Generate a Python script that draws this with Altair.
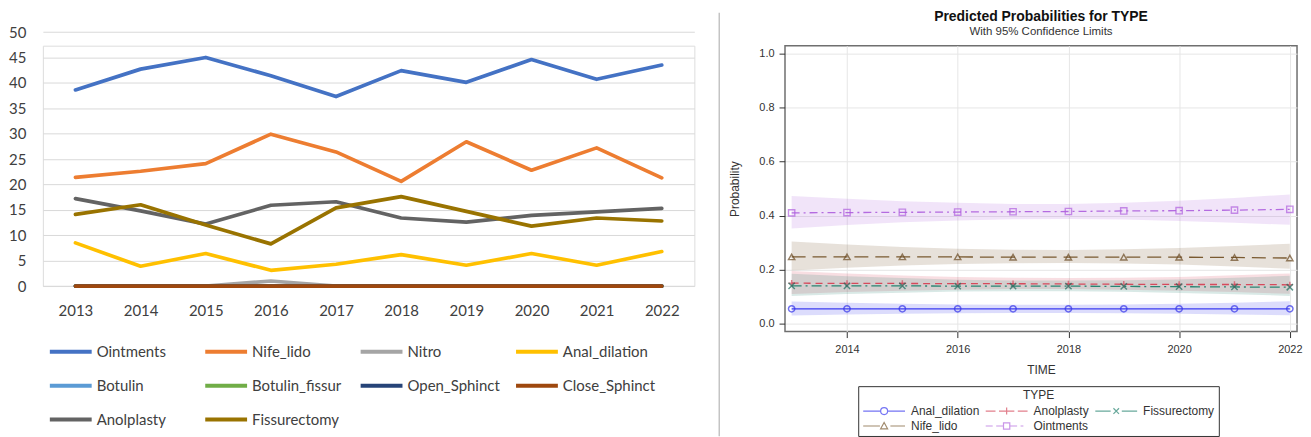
import altair as alt
import pandas as pd

# ---------------- left chart data (counts per year) ----------------
years = [2013, 2014, 2015, 2016, 2017, 2018, 2019, 2020, 2021, 2022]
series_names = ["Ointments", "Nife_lido", "Nitro", "Anal_dilation", "Botulin",
                "Botulin_fissur", "Open_Sphinct", "Close_Sphinct", "Anolplasty", "Fissurectomy"]
series_colors = ["#4472C4", "#ED7D31", "#A5A5A5", "#FFC000", "#5B9BD5",
                 "#70AD47", "#264478", "#9E480E", "#636363", "#997300"]

ointments = [38.6, 42.7, 45.0, 41.4, 37.3, 42.4, 40.1, 44.6, 40.7, 43.5]
nife_lido = [21.4, 22.6, 24.1, 29.9, 26.4, 20.6, 28.4, 22.8, 27.2, 21.3]
nitro = [0, 0, 0, 1.0, 0, 0, 0, 0, 0, 0]
anal_dilation = [8.5, 3.9, 6.4, 3.1, 4.3, 6.2, 4.1, 6.4, 4.1, 6.8]
botulin = [0, 0, 0, 0, 0, 0, 0, 0, 0, 0]
botulin_fissur = [0, 0, 0, 0, 0, 0, 0, 0, 0, 0]
open_sphinct = [0, 0, 0, 0, 0, 0, 0, 0, 0, 0]
close_sphinct = [0, 0, 0, 0, 0, 0, 0, 0, 0, 0]
anolplasty = [17.2, 14.8, 12.2, 15.9, 16.6, 13.4, 12.6, 13.9, 14.6, 15.3]
fissurectomy = [14.1, 16.0, 12.0, 8.3, 15.4, 17.6, 14.7, 11.8, 13.4, 12.8]
left_y_ticks = [0, 5, 10, 15, 20, 25, 30, 35, 40, 45, 50]

left_values = [ointments, nife_lido, nitro, anal_dilation, botulin,
               botulin_fissur, open_sphinct, close_sphinct, anolplasty, fissurectomy]
left_rows = []
for name, vals in zip(series_names, left_values):
    for yr, v in zip(years, vals):
        left_rows.append({"Series": name, "Year": yr, "Value": v})
left_df = pd.DataFrame(left_rows)

# ---------------- right chart data (predicted probabilities) ----------------
types = ["Anal_dilation", "Anolplasty", "Fissurectomy", "Nife_lido", "Ointments"]
type_colors = ["#3b3bf0", "#d64a5c", "#2a8573", "#7a5a30", "#b46be0"]
marker_colors = ["#3535ea", "#d64a5c", "#1b6e5f", "#6b4a22", "#b060de"]
marker_widths = [1.5, 1.4, 2.2, 1.7, 1.3]

p_anal = [0.055, 0.055, 0.055, 0.055, 0.055, 0.055, 0.055, 0.055, 0.055, 0.055]
lo_anal = [0.030, 0.034, 0.037, 0.039, 0.040, 0.040, 0.039, 0.037, 0.034, 0.031]
hi_anal = [0.082, 0.078, 0.074, 0.071, 0.070, 0.070, 0.071, 0.074, 0.078, 0.083]

p_anol = [0.150, 0.149, 0.149, 0.148, 0.148, 0.147, 0.146, 0.145, 0.145, 0.144]
lo_anol = [0.110, 0.117, 0.122, 0.126, 0.128, 0.128, 0.126, 0.122, 0.117, 0.111]
hi_anol = [0.195, 0.186, 0.178, 0.173, 0.170, 0.169, 0.170, 0.173, 0.179, 0.186]

p_fiss = [0.140, 0.140, 0.140, 0.139, 0.139, 0.139, 0.138, 0.137, 0.136, 0.135]
lo_fiss = [0.103, 0.110, 0.115, 0.119, 0.120, 0.120, 0.118, 0.114, 0.109, 0.103]
hi_fiss = [0.185, 0.176, 0.169, 0.163, 0.160, 0.160, 0.161, 0.164, 0.170, 0.177]

p_nife = [0.247, 0.247, 0.247, 0.247, 0.246, 0.246, 0.246, 0.246, 0.245, 0.243]
lo_nife = [0.197, 0.207, 0.215, 0.221, 0.224, 0.225, 0.223, 0.219, 0.212, 0.203]
hi_nife = [0.304, 0.293, 0.284, 0.277, 0.274, 0.273, 0.275, 0.280, 0.287, 0.296]

p_oint = [0.410, 0.411, 0.412, 0.413, 0.414, 0.415, 0.417, 0.418, 0.420, 0.423]
lo_oint = [0.352, 0.365, 0.375, 0.382, 0.386, 0.387, 0.385, 0.380, 0.373, 0.366]
hi_oint = [0.472, 0.462, 0.453, 0.447, 0.443, 0.443, 0.447, 0.455, 0.465, 0.478]

right_x_ticks = [2014, 2016, 2018, 2020, 2022]
right_y_ticks = [0.0, 0.2, 0.4, 0.6, 0.8, 1.0]

p_all = [p_anal, p_anol, p_fiss, p_nife, p_oint]
lo_all = [lo_anal, lo_anol, lo_fiss, lo_nife, lo_oint]
hi_all = [hi_anal, hi_anol, hi_fiss, hi_nife, hi_oint]
right_rows = []
for t, ps, los, his in zip(types, p_all, lo_all, hi_all):
    for yr, p, lo, hi in zip(years, ps, los, his):
        right_rows.append({"TYPE": t, "TIME": yr, "p": p, "lo": lo, "hi": hi})
right_df = pd.DataFrame(right_rows)

# styles
dashes = [[1, 0], [7, 5], [10, 4, 2, 4], [14, 7], [8, 4, 2, 4]]
marker_shapes = ["circle", "M-1,0H1M0,-1V1", "M-1,-1L1,1M-1,1L1,-1", "triangle-up", "square"]
# legend glyphs: line segment + marker, drawn in symbol units (1 unit = 7 px)
legend_paths = [
    "M-1,0H1.5M2.5,0H5M2.5,0A0.5,0.5 0 1,1 1.5,0A0.5,0.5 0 1,1 2.5,0",
    "M-1,0H0.4M0.9,0H3.1M3.6,0H5M2,-0.5V0.5",
    "M-1,0H1.2M2.8,0H5M1.6,-0.4L2.4,0.4M1.6,0.4L2.4,-0.4",
    "M-1,0H1.4M2.9,0H5M2,-0.5L2.5,0.4H1.5Z",
    "M-1,0H0M0.5,0H1.5M2.5,0H3.5M4,0H4.4M1.55,-0.45H2.45V0.45H1.55Z",
]
left_legend_glyph = "M-1,0H5"

# ---------------- left panel ----------------
LEFT_H = 241.3
left_x = alt.X("Year:Q", scale=alt.Scale(domain=[2012.5, 2022.5], nice=False, zero=False),
               axis=alt.Axis(values=years, format="d", grid=False, domain=False, ticks=False,
                             labelFont="Lato", labelFontSize=15, labelColor="#404040",
                             labelPadding=18, title=None))
left_y = alt.Y("Value:Q", scale=alt.Scale(domain=[0, 50], range=[LEFT_H, -13.7], nice=False),
               axis=alt.Axis(values=left_y_ticks, grid=True, gridColor="#d9d9d9", domain=False,
                             ticks=False, labelFont="Lato", labelFontSize=15, labelColor="#404040",
                             labelPadding=17, title=None))
left = alt.Chart(left_df).mark_line(strokeWidth=3.7, strokeJoin="round", strokeCap="round").encode(
    x=left_x,
    y=left_y,
    color=alt.Color("Series:N", scale=alt.Scale(domain=series_names, range=series_colors),
                    legend=alt.Legend(title=None, orient="none", legendX=5, legendY=298.3,
                                      direction="horizontal", columns=4, gridAlign="all",
                                      symbolType=left_legend_glyph, symbolSize=196,
                                      symbolStrokeWidth=4,
                                      labelFont="Lato", labelFontSize=15, labelColor="#404040",
                                      labelOffset=31, columnPadding=8, rowPadding=17,
                                      padding=0, labelLimit=300)),
    detail="Series:N",
).properties(width=654, height=LEFT_H)

# ---------------- separator ----------------
sep = alt.Chart(pd.DataFrame({"v": [0]})).mark_rule(color="#c4c4c4", strokeWidth=1.5).encode(
    x=alt.value(19), y=alt.value(-33), y2=alt.value(392)
).properties(width=22, height=300,
             view=alt.ViewBackground(stroke="transparent", strokeWidth=0, fill="transparent"))

# ---------------- right panel ----------------
rx = alt.X("TIME:Q", scale=alt.Scale(domain=[2012.88, 2022.13], nice=False, zero=False),
           axis=alt.Axis(values=right_x_ticks, format="d", grid=True, gridColor="#e6e6e6",
                         domain=False, tickSize=6, tickColor="#333", labelFont="Liberation Sans",
                         labelFontSize=11, labelColor="#333", labelPadding=6,
                         title="TIME", titleFont="Liberation Sans", titleFontSize=12,
                         titleFontWeight="normal", titleColor="#333", titlePadding=10))
ry_scale = alt.Scale(domain=[-0.029, 1.028], nice=False, zero=False)
ry = alt.Y("p:Q", scale=ry_scale,
           axis=alt.Axis(values=right_y_ticks, format=".1f", grid=True, gridColor="#e6e6e6",
                         domain=False, tickSize=6, tickColor="#333", labelFont="Liberation Sans",
                         labelFontSize=11, labelColor="#333", labelPadding=5,
                         title="Probability", titleFont="Liberation Sans", titleFontSize=12,
                         titleFontWeight="normal", titleColor="#333", titlePadding=17))

base = alt.Chart(right_df)
color_nolegend = alt.Color("TYPE:N", scale=alt.Scale(domain=types, range=type_colors), legend=None)

bands = base.mark_area(opacity=0.18).encode(
    x=rx, y=alt.Y("lo:Q", scale=ry_scale), y2="hi:Q", color=color_nolegend)
lines = base.mark_line(strokeWidth=1.3).encode(
    x=rx, y=ry, color=color_nolegend,
    strokeDash=alt.StrokeDash("TYPE:N", scale=alt.Scale(domain=types, range=dashes), legend=None))
points = base.mark_point(filled=False, size=40).encode(
    x=rx, y=ry,
    color=alt.Color("TYPE:N", scale=alt.Scale(domain=types, range=marker_colors), legend=None),
    strokeWidth=alt.StrokeWidth("TYPE:N", scale=alt.Scale(domain=types, range=marker_widths),
                                legend=None),
    shape=alt.Shape("TYPE:N", scale=alt.Scale(domain=types, range=marker_shapes), legend=None))

right_legend = alt.Legend(title="TYPE", orient="none", legendX=73.5, legendY=341.8,
                          direction="horizontal", columns=3,
                          symbolSize=196, symbolStrokeWidth=1.2,
                          labelFont="Liberation Sans", labelFontSize=12, labelColor="#333",
                          labelOffset=33, columnPadding=3, rowPadding=1, padding=4,
                          strokeColor="#333", fillColor="white",
                          titleFont="Liberation Sans", titleFontSize=12, titleFontWeight="normal",
                          titleColor="#333", titleAnchor="middle", titleAlign="center",
                          titlePadding=1, labelLimit=300)
legend_layer = base.mark_point(filled=False, clip=True, strokeWidth=1.2).encode(
    x=rx, y=alt.value(-100),
    color=alt.Color("TYPE:N", scale=alt.Scale(domain=types, range=type_colors), legend=right_legend),
    shape=alt.Shape("TYPE:N", scale=alt.Scale(domain=types, range=legend_paths), legend=right_legend))

right = alt.layer(bands, lines, points, legend_layer).resolve_scale(
    color="independent", shape="independent").properties(
    width=514, height=287,
    view=alt.ViewBackground(stroke="#6f6f6f", strokeWidth=1.5),
    title=alt.TitleParams(text="Predicted Probabilities for TYPE",
                          subtitle="With 95% Confidence Limits",
                          font="Liberation Sans", fontSize=14, fontWeight="bold", color="#111",
                          subtitleFont="Liberation Sans", subtitleFontSize=11.5,
                          subtitleColor="#333", subtitlePadding=2, anchor="middle", offset=8))

chart = alt.hconcat(left, sep, right, spacing=5).properties(
    padding={"left": 0, "top": 0, "right": 0, "bottom": 0}
).configure_view(stroke="transparent").configure(background="white")

chart.save("out.html", embed_options={"renderer": "svg", "actions": False})
